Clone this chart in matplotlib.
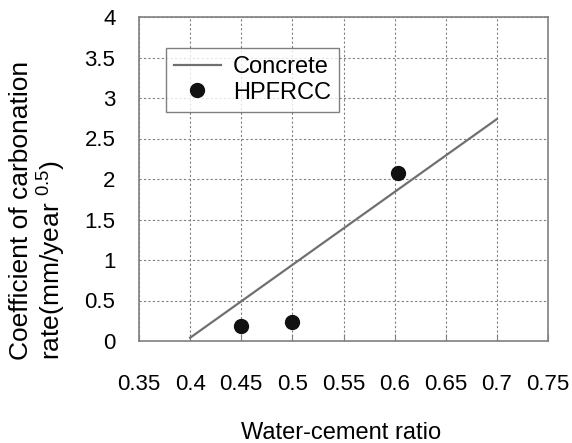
import matplotlib.pyplot as plt

plt.rcParams['font.family'] = ['Liberation Sans', 'DejaVu Sans']
plt.rcParams['mathtext.fontset'] = 'custom'
plt.rcParams['mathtext.rm'] = 'Liberation Sans'

# Concrete regression line and HPFRCC measurements
concrete_wc = [0.40, 0.70]
concrete_rate = [0.04, 2.74]
hpfrcc_wc = [0.45, 0.50, 0.603]
hpfrcc_rate = [0.18, 0.24, 2.08]

xticks = [0.35, 0.4, 0.45, 0.5, 0.55, 0.6, 0.65, 0.7, 0.75]
xtick_labels = ["0.35", "0.4", "0.45", "0.5", "0.55", "0.6", "0.65", "0.7", "0.75"]
yticks = [0, 0.5, 1, 1.5, 2, 2.5, 3, 3.5, 4]
ytick_labels = ["0", "0.5", "1", "1.5", "2", "2.5", "3", "3.5", "4"]

fig = plt.figure(figsize=(5.72, 4.43), dpi=100)
ax = fig.add_axes([139 / 572, 1 - 341 / 443, 409 / 572, 324 / 443])

ax.plot(concrete_wc, concrete_rate, color="#707070", linewidth=1.6, label="Concrete")
ax.plot(hpfrcc_wc, hpfrcc_rate, linestyle="none", marker="o", markersize=10,
        color="#111111", label="HPFRCC")

ax.set_xlim(0.35, 0.75)
ax.set_ylim(0, 4)
ax.set_xticks(xticks)
ax.set_xticklabels(xtick_labels)
ax.set_yticks(yticks)
ax.set_yticklabels(ytick_labels)
ax.tick_params(axis="x", direction="in", length=5, color="#808080", pad=24, labelsize=16)
ax.tick_params(axis="y", length=0, pad=17, labelsize=16)
ax.grid(True, color="#808080", linestyle=(0, (2, 2)), linewidth=0.8)
for s in ax.spines.values():
    s.set_color("#808080")
    s.set_linewidth(1.2)

fig.text(341 / 572, 1 - 439 / 443, "Water-cement ratio", fontsize=17,
         ha="center", va="baseline")
fig.text(38 / 572, 1 - 210 / 443, "Coefficient of carbonation\nrate(mm/year $^{0.5}$)",
         fontsize=19, rotation=90, ha="center", va="center",
         multialignment="left", linespacing=1.05)

leg = ax.legend(loc="upper left", bbox_to_anchor=(0.065, 0.905), fontsize=17,
                frameon=True, fancybox=False, borderpad=0.35, handlelength=2.0,
                handletextpad=0.5, labelspacing=0.15, borderaxespad=0)
leg.get_frame().set_edgecolor("#606060")
leg.get_frame().set_linewidth(1.0)

fig.savefig("out.png", dpi=100)
